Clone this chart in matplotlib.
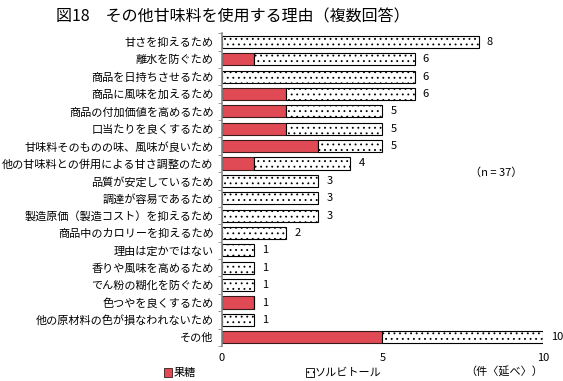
import numpy as np
import matplotlib.pyplot as plt

plt.rcParams['font.family'] = ['Noto Sans CJK JP', 'DejaVu Sans']
plt.rcParams['hatch.linewidth'] = 0.6

# ---- data ----
reasons = [
    "甘さを抑えるため",
    "離水を防ぐため",
    "商品を日持ちさせるため",
    "商品に風味を加えるため",
    "商品の付加価値を高めるため",
    "口当たりを良くするため",
    "甘味料そのものの味、風味が良いため",
    "他の甘味料との併用による甘さ調整のため",
    "品質が安定しているため",
    "調達が容易であるため",
    "製造原価（製造コスト）を抑えるため",
    "商品中のカロリーを抑えるため",
    "理由は定かではない",
    "香りや風味を高めるため",
    "でん粉の糊化を防ぐため",
    "色つやを良くするため",
    "他の原材料の色が損なわれないため",
    "その他",
]
fructose = [0, 1, 0, 2, 2, 2, 3, 1, 0, 0, 0, 0, 0, 0, 0, 1, 0, 5]
sorbitol = [8, 5, 6, 4, 3, 3, 2, 3, 3, 3, 3, 2, 1, 1, 1, 0, 1, 5]
x_ticks = [0, 5, 10]

fructose = np.array(fructose)
sorbitol = np.array(sorbitol)
totals = fructose + sorbitol
y = np.arange(len(reasons))

fig = plt.figure(figsize=(5.63, 3.81), dpi=100)
ax = fig.add_axes([0.394, 0.092, 0.5705, 0.821])

ax.barh(y, fructose, height=0.7, color='#e04a55', edgecolor='#3a1a1a', linewidth=0.8)
ax.barh(y, sorbitol, left=fructose, height=0.7, color='white', edgecolor='black',
        linewidth=0.8, hatch='...')

for yi, t in zip(y, totals):
    ax.text(t + 0.25, yi, str(t), va='center', ha='left', fontsize=8, clip_on=False)

ax.set_ylim(len(reasons) - 0.5, -0.5)
ax.set_xlim(0, 10)
ax.set_yticks(y)
ax.set_yticklabels(reasons, fontsize=8)
ax.set_yticks(np.arange(-0.5, len(reasons), 1), minor=True)
ax.tick_params(axis='y', which='major', length=0, pad=6)
ax.tick_params(axis='y', which='minor', length=3, color='#888888')
ax.set_xticks(x_ticks)
ax.set_xticklabels([str(v) for v in x_ticks], fontsize=8)
ax.tick_params(axis='x', length=0, pad=5)

for s in ['top', 'right', 'bottom']:
    ax.spines[s].set_visible(False)
ax.spines['left'].set_color('#888888')
ax.spines['left'].set_linewidth(1.2)

fig.text(0.1, 0.955, "図18　その他甘味料を使用する理由（複数回答）", fontsize=11.5,
         ha='left', va='center')
fig.text(0.835, 0.548, "（n = 37）", fontsize=8, ha='left', va='center')
fig.text(0.965, 0.022, "（件〈延べ〉）", fontsize=8, ha='right', va='center')

# legend
fig.patches.append(plt.Rectangle((0.292, 0.011), 0.014, 0.022, transform=fig.transFigure,
                                 facecolor='#e04a55', edgecolor='#3a1a1a', linewidth=0.6))
fig.text(0.308, 0.022, "果糖", fontsize=8, ha='left', va='center')
fig.patches.append(plt.Rectangle((0.543, 0.011), 0.014, 0.022, transform=fig.transFigure,
                                 facecolor='white', edgecolor='black', linewidth=0.6,
                                 hatch='...'))
fig.text(0.559, 0.022, "ソルビトール", fontsize=8, ha='left', va='center')

fig.savefig("out.png", dpi=100)
